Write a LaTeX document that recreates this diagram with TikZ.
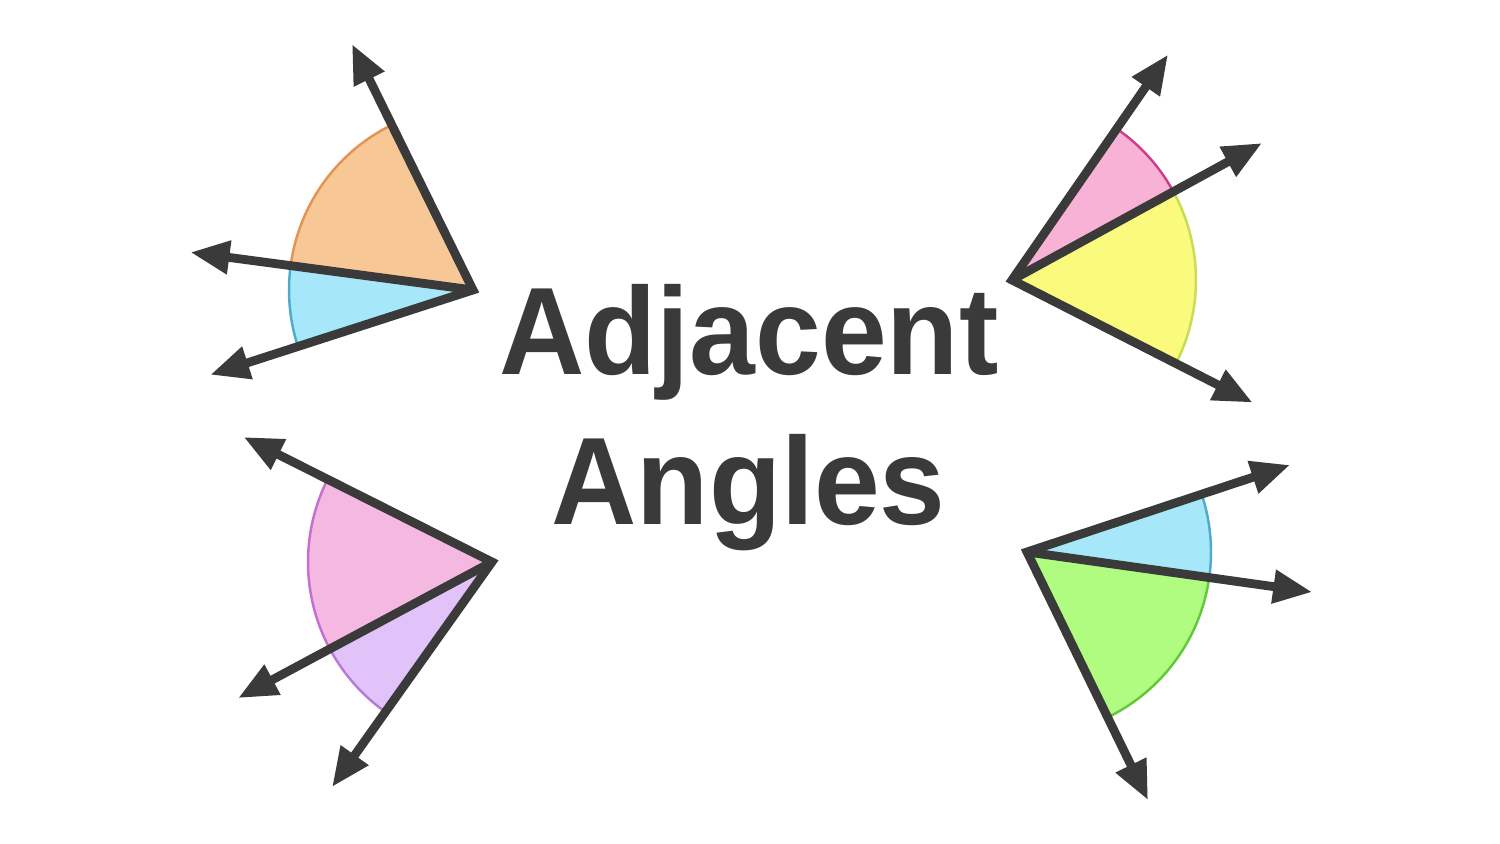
\documentclass[tikz,border=0pt]{standalone}
\usepackage{fontspec}
\setmainfont{Liberation Sans}
\usepackage{tikz}
\usetikzlibrary{arrows.meta,calc}

\definecolor{ink}{HTML}{3A3A3A}
\definecolor{orangeF}{HTML}{F7C896}
\definecolor{orangeL}{HTML}{E39452}
\definecolor{blueF}{HTML}{A6E8FA}
\definecolor{blueL}{HTML}{4FAACB}
\definecolor{pinkF}{HTML}{F7B2D6}
\definecolor{pinkL}{HTML}{CC3F8C}
\definecolor{yellowF}{HTML}{FAFA7D}
\definecolor{yellowL}{HTML}{C8DC55}
\definecolor{roseF}{HTML}{F5B9E1}
\definecolor{roseL}{HTML}{C66FD2}
\definecolor{lilacF}{HTML}{E1C3FA}
\definecolor{lilacL}{HTML}{B77AD8}
\definecolor{greenF}{HTML}{B0FC80}
\definecolor{greenL}{HTML}{62C83C}

\tikzset{
	ray/.style={ink,line width=2.5pt,line join=miter,arrows={-Triangle[length=3.9mm,width=3.2mm]}},
	dray/.style={ray,arrows={Triangle[length=3.9mm,width=3.2mm]-Triangle[length=3.9mm,width=3.2mm]}},
	wedge/.style={line width=0.7pt},
	title/.style={ink,anchor=base,inner sep=0pt,font=\fontsize{35.4}{42}\selectfont\bfseries}
}

\begin{document}
\begin{tikzpicture}
		\useasboundingbox (0,0) rectangle (15,8.44);
		\def\R{1.84}
		
		%top left
		\coordinate (V1) at (4.73,5.54);
		\fill[wedge,orangeF,draw=orangeL] (V1) -- ++(116.2:\R) arc (116.2:172.4:\R) -- cycle;
		\fill[wedge,blueF,draw=blueL] (V1) -- ++(172.4:\R) arc (172.4:197.9:\R) -- cycle;
		\draw[dray] ($(V1)+(116.2:2.74)$) -- (V1) -- ($(V1)+(197.9:2.76)$);
		\draw[ray] (V1) -- ++(172.4:2.85);
		
		%top right
		\coordinate (V2) at (10.12,5.64);
		\fill[wedge,pinkF,draw=pinkL] (V2) -- ++(28.7:\R) arc (28.7:55.3:\R) -- cycle;
		\fill[wedge,yellowF,draw=yellowL] (V2) -- ++(-27:\R) arc (-27:28.7:\R) -- cycle;
		\draw[dray] ($(V2)+(55.3:2.74)$) -- (V2) -- ($(V2)+(-27:2.70)$);
		\draw[ray] (V2) -- ++(28.7:2.85);
		
		%bottom left
		\coordinate (V3) at (4.92,2.82);
		\fill[wedge,roseF,draw=roseL] (V3) -- ++(153.3:\R) arc (153.3:208.2:\R) -- cycle;
		\fill[wedge,lilacF,draw=lilacL] (V3) -- ++(208.2:\R) arc (208.2:234.6:\R) -- cycle;
		\draw[dray] ($(V3)+(153.3:2.78)$) -- (V3) -- ($(V3)+(234.6:2.76)$);
		\draw[ray] (V3) -- ++(208.2:2.88);
		
		%bottom right
		\coordinate (V4) at (10.27,2.92);
		\fill[wedge,blueF,draw=blueL] (V4) -- ++(-8:\R) arc (-8:18.3:\R) -- cycle;
		\fill[wedge,greenF,draw=greenL] (V4) -- ++(-64:\R) arc (-64:-8:\R) -- cycle;
		\draw[dray] ($(V4)+(18.3:2.77)$) -- (V4) -- ($(V4)+(-64:2.76)$);
		\draw[ray] (V4) -- ++(-8:2.88);
		
		%title
		\node[title] (adj) at (7.49,4.69) {\scalebox{0.95}[1]{Adjacent}};
		\node[title] (ang) at (7.485,3.19) {\scalebox{0.95}[1]{Angles}};
	\end{tikzpicture}
\end{document}
